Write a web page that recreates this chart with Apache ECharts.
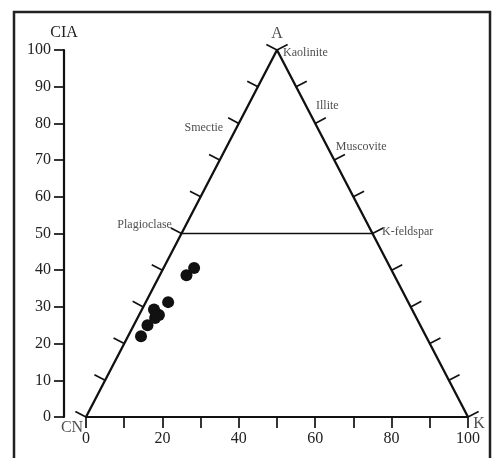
<!DOCTYPE html>
<html>
<head>
<meta charset="utf-8">
<script src="https://cdn.jsdelivr.net/npm/echarts@6/dist/echarts.min.js"></script>
<style>
html,body{margin:0;padding:0;background:#fff;}
#c{width:492px;height:458px;}
</style>
</head>
<body>
<div id="c"></div>
<script>
// ---- data ----
// samples: horizontal position within the A-CN-K diagram and CIA (A apex value)
const sampleX   = [14.4, 16.1, 18.1, 18.3, 17.8, 19.1, 21.5, 26.3, 28.3];
const sampleCIA = [22.0, 25.0, 27.0, 28.3, 29.3, 27.8, 31.3, 38.6, 40.6];
// triangle vertices (x, CIA)
const vertexNames = ['CN', 'A', 'K'];
const vertexX     = [0, 50, 100];
const vertexY     = [0, 100, 0];
// tick levels along triangle sides
const sideTickLevels = [0, 10, 20, 30, 40, 50, 60, 70, 80, 90, 100];
// feldspar join line (CIA = 50)
const feldsparLineX = [25, 75];
const feldsparLineY = [50, 50];
// mineral annotation names and their anchors (x, CIA)
const mineralNames = ['Kaolinite', 'Illite', 'Muscovite', 'Smectie', 'Plagioclase', 'K-feldspar'];
const mineralX     = [51.6, 60.2, 65.4, 35.9, 22.5, 77.5];
const mineralY     = [99.2, 84.7, 73.6, 78.7, 52.3, 50.4];
const mineralSide  = ['right', 'right', 'right', 'left', 'left', 'right'];
// axis tick labels
const axisTicks = [0, 10, 20, 30, 40, 50, 60, 70, 80, 90, 100];

const FONT = '"Liberation Serif", "DejaVu Serif", serif';
const INK = '#111';
const TXT = '#222';
const TICK = 12;

const chart = echarts.init(document.getElementById('c'), null, {renderer: 'canvas'});

const tickData = [];
sideTickLevels.forEach(l => { tickData.push([0, l]); tickData.push([1, l]); });

function renderTick(params, api) {
  const side = api.value(0);
  const lvl = api.value(1);
  let a, b, p;
  if (side === 0) {
    a = api.coord([vertexX[0], vertexY[0]]);
    b = api.coord([vertexX[1], vertexY[1]]);
    p = api.coord([vertexX[0] + (vertexX[1] - vertexX[0]) * lvl / 100, lvl]);
  } else {
    a = api.coord([vertexX[2], vertexY[2]]);
    b = api.coord([vertexX[1], vertexY[1]]);
    p = api.coord([vertexX[2] + (vertexX[1] - vertexX[2]) * lvl / 100, lvl]);
  }
  const dx = b[0] - a[0], dy = b[1] - a[1];
  const len = Math.hypot(dx, dy);
  const ux = dx / len, uy = dy / len;
  let nx, ny;
  if (side === 0) { nx = uy; ny = -ux; } else { nx = -uy; ny = ux; }
  return {
    type: 'line',
    shape: {x1: p[0], y1: p[1], x2: p[0] + nx * TICK, y2: p[1] + ny * TICK},
    style: {stroke: INK, lineWidth: 1.7}
  };
}

const vertexLabelCfg = {
  CN: {position: 'inside', offset: [-14, 11], align: 'center'},
  A:  {position: 'inside', offset: [0, -16], align: 'center'},
  K:  {position: 'inside', offset: [11, 7], align: 'center'}
};

const option = {
  animation: false,
  backgroundColor: '#fff',
  graphic: [{
    type: 'rect',
    shape: {x: 14, y: 12, width: 476, height: 470},
    style: {fill: 'none', stroke: '#222', lineWidth: 2.5},
    silent: true
  }],
  grid: {left: 86, right: 24, top: 50, bottom: 41, containLabel: false},
  xAxis: {
    type: 'value', min: 0, max: 100, interval: 10,
    axisLine: {show: true, onZero: false, lineStyle: {color: INK, width: 2.2}},
    axisTick: {show: true, inside: false, length: 11, lineStyle: {color: INK, width: 1.7}},
    axisLabel: {
      show: true, margin: 14, fontSize: 16, fontFamily: FONT, color: TXT,
      showMinLabel: true, showMaxLabel: true,
      formatter: v => (axisTicks.indexOf(v) >= 0 && v % 20 === 0) ? String(v) : ''
    },
    splitLine: {show: false}
  },
  yAxis: {
    type: 'value', min: 0, max: 100, interval: 10, position: 'left', offset: 22,
    name: 'CIA', nameLocation: 'end', nameGap: 9,
    nameTextStyle: {fontSize: 16, fontFamily: FONT, color: TXT, align: 'center'},
    axisLine: {show: true, onZero: false, lineStyle: {color: INK, width: 2.2}},
    axisTick: {show: true, inside: false, length: 10, lineStyle: {color: INK, width: 1.7}},
    axisLabel: {
      show: true, margin: 13, fontSize: 16, fontFamily: FONT, color: TXT,
      showMinLabel: true, showMaxLabel: true,
      formatter: v => String(v)
    },
    splitLine: {show: false}
  },
  series: [
    {
      type: 'line',
      data: vertexX.map((x, i) => [x, vertexY[i]]),
      symbol: 'none',
      lineStyle: {color: INK, width: 2.3},
      clip: false,
      z: 3
    },
    {
      type: 'line',
      data: feldsparLineX.map((x, i) => [x, feldsparLineY[i]]),
      symbol: 'none',
      lineStyle: {color: INK, width: 1.4},
      z: 3
    },
    {
      type: 'custom',
      data: tickData,
      renderItem: renderTick,
      clip: false,
      z: 3
    },
    {
      type: 'scatter',
      data: sampleX.map((x, i) => [x, sampleCIA[i]]),
      symbol: 'circle',
      symbolSize: 12,
      itemStyle: {color: INK, opacity: 1},
      z: 5
    },
    {
      type: 'scatter',
      symbolSize: 0,
      clip: false,
      silent: true,
      data: mineralNames.map((n, i) => ({
        name: n,
        value: [mineralX[i], mineralY[i]],
        label: {
          show: true, position: mineralSide[i], distance: 0,
          formatter: n, fontSize: 12, fontFamily: FONT, color: TXT
        }
      })),
      z: 6
    },
    {
      type: 'scatter',
      symbolSize: 0,
      clip: false,
      silent: true,
      data: vertexNames.map((n, i) => ({
        name: n,
        value: [vertexX[i], vertexY[i]],
        label: Object.assign({
          show: true, formatter: n, fontSize: 16, fontFamily: FONT, color: TXT,
          verticalAlign: 'middle'
        }, vertexLabelCfg[n])
      })),
      z: 6
    }
  ]
};
chart.setOption(option);
</script>
</body>
</html>
